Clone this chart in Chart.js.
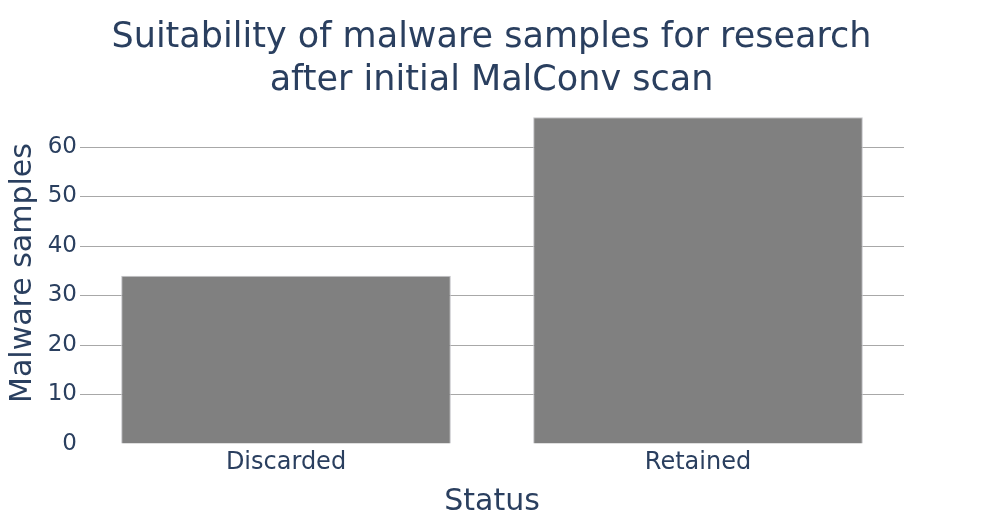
<!DOCTYPE html>
<html>
<head>
<meta charset="utf-8">
<script src="https://cdn.jsdelivr.net/npm/chart.js@4"></script>
<style>
  html, body { margin: 0; padding: 0; background: #fff; }
  #wrap { width: 983px; height: 525px; }
</style>
</head>
<body>
<div id="wrap"><canvas id="myChart" width="983" height="525"></canvas></div>
<script>
var statusLabels = ["Discarded", "Retained"];
var sampleCounts = [34, 66];
var titleLines = ["Suitability of malware samples for research", "after initial MalConv scan"];

var txtColor = "#2a3f5f";
var fam = "'DejaVu Sans', Verdana, sans-serif";

new Chart("myChart", {
  type: "bar",
  data: {
    labels: statusLabels,
    datasets: [{
      data: sampleCounts,
      backgroundColor: "#808080",
      borderColor: "#c4c4c8",
      borderWidth: 1,
      barPercentage: 0.8,
      categoryPercentage: 1.0
    }]
  },
  options: {
    responsive: false,
    animation: false,
    layout: { padding: 0 },
    plugins: {
      legend: { display: false },
      tooltip: { enabled: false },
      title: {
        display: true,
        text: titleLines,
        color: txtColor,
        font: { family: fam, size: 35, weight: "normal", lineHeight: 1.229 },
        padding: { top: 16, bottom: 0 }
      }
    },
    scales: {
      x: {
        grid: { display: false, drawTicks: false },
        border: { display: false },
        ticks: { color: txtColor, font: { family: fam, size: 24 }, padding: 4 },
        title: { display: true, text: "Status", color: txtColor, font: { family: fam, size: 30 }, padding: { top: 0, bottom: 5 } },
        afterFit: function (s) { s.height = 81; }
      },
      y: {
        min: 0,
        max: 69.09,
        grid: {
          drawTicks: false,
          color: function (c) { return c.tick.value === 0 ? "rgba(0,0,0,0)" : "#a8a8a8"; },
          lineWidth: 1
        },
        border: { display: false },
        ticks: { stepSize: 10, includeBounds: false, color: txtColor, font: { family: fam, size: 23 }, padding: 3 },
        title: { display: true, text: "Malware samples", color: txtColor, font: { family: fam, size: 30 }, padding: { top: 5, bottom: 0 } },
        afterFit: function (s) { s.width = 80; }
      },
      yRight: {
        position: "right",
        display: true,
        grid: { display: false, drawTicks: false },
        border: { display: false },
        ticks: { display: false },
        afterFit: function (s) { s.width = 79; }
      }
    }
  }
});
</script>
</body>
</html>
